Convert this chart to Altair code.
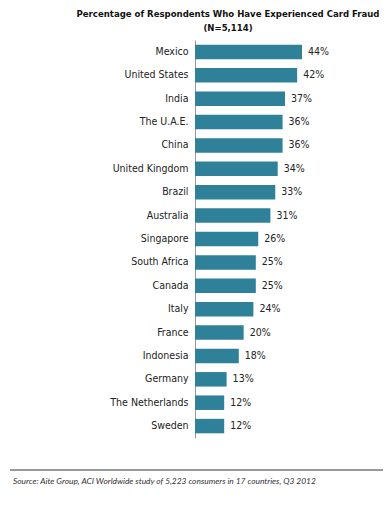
import altair as alt
import pandas as pd

countries = ["Mexico", "United States", "India", "The U.A.E.", "China", "United Kingdom",
             "Brazil", "Australia", "Singapore", "South Africa", "Canada", "Italy",
             "France", "Indonesia", "Germany", "The Netherlands", "Sweden"]
values = [44, 42, 37, 36, 36, 34, 33, 31, 26, 25, 25, 24, 20, 18, 13, 12, 12]
labels = [f"{v}%" for v in values]

title_lines = ["Percentage  of Respondents Who Have Experienced Card Fraud", "(N=5,114)"]
source_text = "Source: Aite Group, ACI Worldwide study of 5,223 consumers in 17 countries, Q3 2012"

df = pd.DataFrame({"country": countries, "value": values, "label": labels})

FONT = "'DejaVu Sans Condensed', 'Roboto Condensed', Roboto, sans-serif"
W, H = 180, 398

y_enc = alt.Y("country:N", sort=countries,
              scale=alt.Scale(paddingInner=0.38, paddingOuter=0.2),
              axis=alt.Axis(title=None, ticks=False, labelPadding=7, labelFont=FONT,
                            labelFontSize=10.5, labelColor="#222", domainColor="#999",
                            domainWidth=1))
x_enc = alt.X("value:Q", scale=alt.Scale(domain=[0, 74]), axis=None)

bars = alt.Chart(df).mark_bar(color="#2E8198").encode(x=x_enc, y=y_enc)
text = alt.Chart(df).mark_text(align="left", dx=6, font=FONT, fontSize=10.5, color="#222").encode(
    x=x_enc, y=alt.Y("country:N", sort=countries), text="label:N")

rule = alt.Chart(pd.DataFrame({"a": [0]})).mark_rule(color="#333", strokeWidth=1, clip=False).encode(
    x=alt.value(-185), x2=alt.value(188), y=alt.value(430))
src = alt.Chart(pd.DataFrame({"t": [source_text]})).mark_text(
    align="left", baseline="middle", font="Lato", fontStyle="italic", fontSize=8.4,
    color="#333", clip=False).encode(x=alt.value(-182), y=alt.value(441), text="t:N")

chart = alt.layer(bars, text, rule, src).properties(
    width=W, height=H,
    title=alt.TitleParams(text=title_lines, anchor="start", align="center", dx=33,
                          frame="group", font=FONT, fontSize=9.5, fontWeight="bold",
                          color="#111", offset=8, lineHeight=14, limit=1000),
    autosize=alt.AutoSizeParams(type="none"),
    padding={"left": 187, "top": 32, "right": 8, "bottom": 60},
).configure_view(stroke=None)

chart.save("out.html", embed_options={"renderer": "svg", "actions": False})
